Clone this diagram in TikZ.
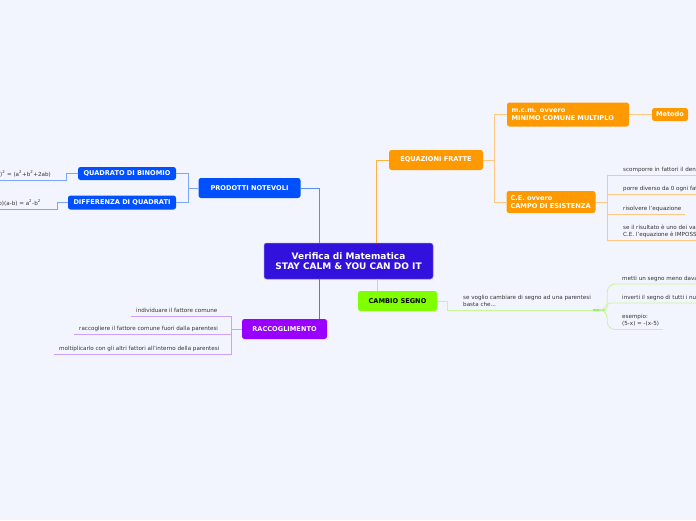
\documentclass[tikz,border=0pt]{standalone}
\usepackage{fontspec}
\setsansfont{DejaVu Sans}
\usetikzlibrary{positioning}

\definecolor{bgcol}{RGB}{242,245,253}
\definecolor{centercol}{RGB}{51,17,221}
\definecolor{bluenode}{RGB}{0,80,255}
\definecolor{blueline}{RGB}{125,165,255}
\definecolor{orangenode}{RGB}{255,153,0}
\definecolor{orangeline}{RGB}{255,200,130}
\definecolor{limenode}{RGB}{128,255,0}
\definecolor{limeline}{RGB}{200,245,150}
\definecolor{purplenode}{RGB}{153,0,255}
\definecolor{purpleline}{RGB}{205,160,250}

\tikzset{
  topic/.style={rounded corners=2.5pt, inner sep=2pt, align=center, text=white,
    font=\sffamily\bfseries\fontsize{6.6}{8}\selectfont},
  leaf/.style={inner sep=0pt, align=left, text=black!80, text depth=3.5pt,
    font=\sffamily\fontsize{5.6}{7}\selectfont},
  link/.style={line width=1pt},
  twig/.style={line width=0.8pt},
}

\begin{document}
\begin{tikzpicture}[x=1pt, y=-1pt]
    \fill[bgcol] (0,0) rectangle (696,520);
    \useasboundingbox (0,0) rectangle (696,520);
    \clip (0,0) rectangle (696,520);

    % centre
    \node[topic, fill=centercol, draw=centercol!60!white, line width=0.5pt,
      minimum width=169pt, minimum height=36pt,
      font=\sffamily\bfseries\fontsize{9}{10.5}\selectfont] (main) at (348.5,261)
      {Verifica di Matematica\\STAY CALM \& YOU CAN DO IT};

    % ---------------- prodotti notevoli ----------------
    \node[topic, fill=bluenode, minimum width=102pt, minimum height=20pt] (prod) at (249.5,188) {PRODOTTI NOTEVOLI};
    \node[topic, fill=bluenode, minimum width=98pt, minimum height=13pt] (quad) at (127,173.5) {QUADRATO DI BINOMIO};
    \node[topic, fill=bluenode, minimum width=108pt, minimum height=14pt] (diff) at (122,202.5) {DIFFERENZA DI QUADRATI};
    \node[leaf, anchor=base east] (quadf) at (51,176) {(a+b)\textsuperscript{2} = (a\textsuperscript{2}+b\textsuperscript{2}+2ab)};
    \node[leaf, anchor=base east] (difff) at (41,205.5) {(a+b)(a-b) = a\textsuperscript{2}-b\textsuperscript{2}};

    \draw[link, bluenode!65!white] ([xshift=-29.5pt]main.north) |- (prod.east);
    \draw[link, blueline] (prod.west) -- ++(-10,0) coordinate (pt);
    \draw[link, blueline] (quad.east) -| (pt) |- (diff.east);
    \coordinate (qend) at (-2,180.5);
    \coordinate (dend) at (-2,209.5);
    \draw[twig, blueline] (quad.west) -- ++(-11,0) |- (qend);
    \draw[twig, blueline] (diff.west) -- ++(-10,0) |- (dend);

    % ---------------- equazioni fratte ----------------
    \node[topic, fill=orangenode, minimum width=94pt, minimum height=20pt] (equ) at (436,160) {EQUAZIONI FRATTE};
    \node[topic, fill=orangenode, minimum height=24pt, align=left, inner xsep=4.5pt, text width=113pt] (mcm) at (568,114.5)
      {m.c.m. ovvero\\MINIMO COMUNE MULTIPLO};
    \node[topic, fill=orangenode, minimum width=36pt, minimum height=13pt] (metodo) at (670,114.5) {Metodo};
    \node[topic, fill=orangenode, minimum height=22pt, align=left, inner xsep=4pt, text width=81pt] (ce) at (551,202)
      {C.E. ovvero\\CAMPO DI ESISTENZA};

    \draw[link, orangenode!75!white] ([xshift=27.5pt]main.north) |- (equ.west);
    \draw[link, orangeline] (equ.east) -- ++(11.5,0) coordinate (et);
    \draw[link, orangeline] (mcm.west) -| (et) |- (ce.west);
    \draw[link, orangeline] (mcm.east) -- (metodo.west);
    \draw[link, orangeline] (ce.east) -- ++(11.5,0) coordinate (ct);

    \node[leaf, anchor=south west] (ce1) at (623,175) {scomporre in fattori il denominatore};
    \node[leaf, anchor=south west] (ce2) at (623,194) {porre diverso da 0 ogni fattore};
    \node[leaf, anchor=south west] (ce3) at (623,214) {risolvere l'equazione};
    \node[leaf, anchor=south west] (ce4) at (623,240) {se il risultato è uno dei valori esclusi dalle\\C.E. l'equazione è IMPOSSIBILE};
    \draw[twig, orangeline] (ct |- ce1.south) -- (ct |- ce4.south);
    \draw[twig, orangeline] (ct |- ce1.south) -- ++(100,0);
    \draw[twig, orangeline] (ct |- ce2.south) -- ++(100,0);
    \draw[twig, orangeline] (ct |- ce3.south) -- ([xshift=3pt]ce3.south east);
    \draw[twig, orangeline] (ct |- ce4.south) -- ++(100,0);

    % ---------------- cambio segno ----------------
    \node[topic, fill=limenode, text=black, minimum width=79pt, minimum height=20pt] (cambio) at (397.5,301) {CAMBIO SEGNO};
    \draw[link, limenode!70!white] ([xshift=28.5pt]main.south) -- ([xshift=28.5pt]main.south |- cambio.north);
    \node[leaf, anchor=south west] (basta) at (463,310) {se voglio cambiare di segno ad una parentesi\\basta che...};
    \coordinate (cj) at (605,310);
    \draw[link, limeline] (cambio.east) -- ++(10,0) |- (cj);
    \draw[line width=2.4pt, limeline!70!green] ([xshift=-12pt]cj) -- (cj);

    \node[leaf, anchor=south west] (cs1) at (622,284) {metti un segno meno davanti alla parentesi};
    \node[leaf, anchor=south west] (cs2) at (622,303) {inverti il segno di tutti i numeri};
    \node[leaf, anchor=south west] (cs3) at (622,329.5) {esempio:\\(5-x) = -(x-5)};
    \draw[twig, limeline, rounded corners=8pt] ([xshift=-6pt]cj) -| (ct |- cs1.south) -- ++(100,0);
    \draw[twig, limeline, rounded corners=3pt] ([xshift=-6pt]cj) -| (ct |- cs2.south) -- ++(100,0);
    \draw[twig, limeline, rounded corners=8pt] ([xshift=-6pt]cj) -| (ct |- cs3.south) -- ([xshift=4pt]cs3.south east);

    % ---------------- raccoglimento ----------------
    \node[topic, fill=purplenode, minimum width=85pt, minimum height=20pt] (racc) at (284.5,329) {RACCOGLIMENTO};
    \draw[link, purplenode!75!white] ([xshift=-29.5pt]main.south) -- ([xshift=-29.5pt]main.south |- racc.north);
    \draw[link, purpleline] (racc.west) -- ++(-10,0) coordinate (rt);

    \node[leaf, anchor=south west] (r1) at (136,316) {individuare il fattore comune};
    \node[leaf, anchor=south west] (r2) at (79,334.5) {raccogliere il fattore comune fuori dalla parentesi};
    \node[leaf, anchor=south west] (r3) at (59,354.5) {moltiplicarlo con gli altri fattori all'interno della parentesi};
    \draw[twig, purpleline] (rt |- r1.south) -- (rt |- r3.south);
    \draw[twig, purpleline] ([xshift=-5pt]r1.south west) -- (rt |- r1.south);
    \draw[twig, purpleline] ([xshift=-5pt]r2.south west) -- (rt |- r2.south);
    \draw[twig, purpleline] ([xshift=-5pt]r3.south west) -- (rt |- r3.south);
\end{tikzpicture}
\end{document}
